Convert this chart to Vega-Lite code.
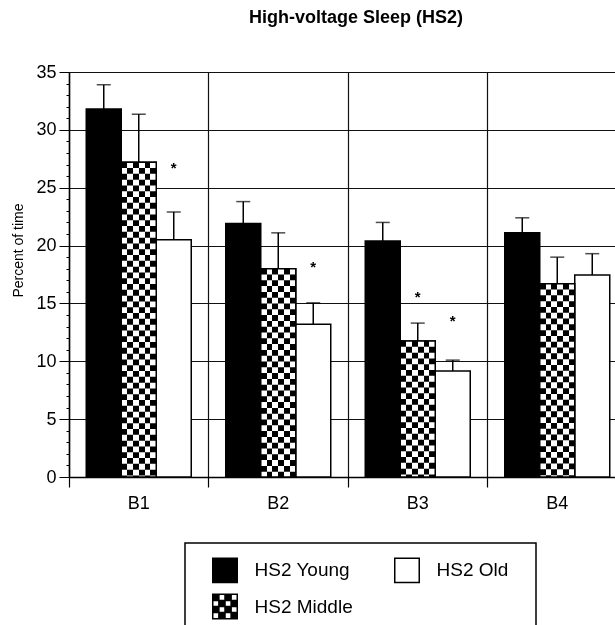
{
  "$schema": "https://vega.github.io/schema/vega-lite/v6.json",
  "autosize": {"type": "none"},
  "width": 546,
  "height": 405,
  "padding": {"left": 69, "top": 72, "right": 0, "bottom": 148},
  "background": "white",
  "title": {"text": "High-voltage Sleep (HS2)", "font": "Liberation Sans", "fontSize": 18, "fontWeight": "bold", "color": "black", "anchor": "middle", "dx": 14, "offset": 36},
  "config": {"view": {"stroke": null}, "font": "Liberation Sans"},
  "data": {"values": [
    {"block": "B1", "series": "HS2 Young", "mean": 31.8, "upper": 33.9, "star": null},
    {"block": "B1", "series": "HS2 Middle", "mean": 27.2, "upper": 31.35, "star": null},
    {"block": "B1", "series": "HS2 Old", "mean": 20.5, "upper": 22.9, "star": 26.8},
    {"block": "B2", "series": "HS2 Young", "mean": 21.9, "upper": 23.8, "star": null},
    {"block": "B2", "series": "HS2 Middle", "mean": 18.0, "upper": 21.1, "star": null},
    {"block": "B2", "series": "HS2 Old", "mean": 13.2, "upper": 15.05, "star": 18.2},
    {"block": "B3", "series": "HS2 Young", "mean": 20.4, "upper": 22.0, "star": null},
    {"block": "B3", "series": "HS2 Middle", "mean": 11.75, "upper": 13.3, "star": 15.6},
    {"block": "B3", "series": "HS2 Old", "mean": 9.15, "upper": 10.1, "star": 13.6},
    {"block": "B4", "series": "HS2 Young", "mean": 21.1, "upper": 22.4, "star": null},
    {"block": "B4", "series": "HS2 Middle", "mean": 16.7, "upper": 19.0, "star": null},
    {"block": "B4", "series": "HS2 Old", "mean": 17.45, "upper": 19.3, "star": null}
  ]},
  "encoding": {
    "x": {"field": "block", "type": "nominal", "scale": {"range": [0, 558], "paddingInner": 0, "paddingOuter": 0},
      "axis": {"title": null, "bandPosition": 0, "labelAngle": 0, "grid": true, "gridColor": "#111", "gridWidth": 1.2, "tickSize": 10, "tickColor": "black", "tickWidth": 1.2, "domainColor": "black", "domainWidth": 1.5, "labelFontSize": 18, "labelColor": "black", "labelPadding": 7, "labelFont": "Liberation Sans"}},
    "xOffset": {"field": "series", "type": "nominal", "scale": {"domain": ["HS2 Young", "HS2 Middle", "HS2 Old"], "paddingInner": 0, "paddingOuter": 0.493}},
    "y": {"field": "mean", "type": "quantitative", "stack": null, "scale": {"domain": [0, 35], "nice": false},
      "axis": {"values": [0,1,2,3,4,5,6,7,8,9,10,11,12,13,14,15,16,17,18,19,20,21,22,23,24,25,26,27,28,29,30,31,32,33,34,35],
        "tickCount": 100, "format": "d",
        "labelExpr": "datum.value % 5 === 0 ? datum.label : ''",
        "tickSize": {"condition": {"test": "datum.value % 5 === 0", "value": 10}, "value": 3},
        "gridOpacity": {"condition": {"test": "datum.value % 5 === 0", "value": 1}, "value": 0},
        "grid": true, "gridColor": "#111", "gridWidth": 1.2,
        "tickColor": "black", "tickWidth": 1, "domainColor": "black", "domainWidth": 1.5,
        "labelFontSize": 18, "labelColor": "black", "labelPadding": 3, "labelFont": "Liberation Sans",
        "title": "Percent of time", "titleFont": "Liberation Sans", "titleFontSize": 14, "titleFontWeight": "normal", "titleColor": "black",
        "titleX": -51, "titleY": 178, "titleAngle": 270, "titleAlign": "center", "titleBaseline": "middle"}}
  },
  "layer": [
    {
      "mark": {"type": "bar", "stroke": "black", "strokeWidth": 1.5},
      "encoding": {
        "color": {"field": "series", "type": "nominal",
          "scale": {"domain": ["HS2 Young", "HS2 Middle", "HS2 Old"], "range": ["black", "black", "white"]},
          "legend": {"orient": "none", "legendX": 116, "legendY": 471, "columns": 2, "direction": "vertical",
            "title": " ", "titleOrient": "right", "titlePadding": 14, "titleFontSize": 1,
            "padding": 14, "strokeColor": "black",
            "symbolType": "square", "symbolSize": 600, "symbolOffset": 13, "symbolStrokeColor": "black", "symbolStrokeWidth": 1.5,
            "labelOffset": 16.5, "labelFontSize": 19, "labelFont": "Liberation Sans", "labelColor": "black",
            "rowPadding": 4.5, "columnPadding": 28,
            "encode": {
              "legend": {"update": {"strokeWidth": {"value": 1.5}}},
              "symbols": {"update": {"shape": [
              {"test": "datum.value === 'HS2 Middle'", "value": "M-1,-1H1V1H-1Z M-0.5,-1V-0.5H0V-1Z M0.5,-1V-0.5H1V-1Z M-1,-0.5V0H-0.5V-0.5Z M0,-0.5V0H0.5V-0.5Z M-0.5,0V0.5H0V0Z M0.5,0V0.5H1V0Z M-1,0.5V1H-0.5V0.5Z M0,0.5V1H0.5V0.5Z"},
              {"value": "square"}]}}}}}
      }
    },
    {
      "transform": [{"filter": "datum.series === 'HS2 Middle'"}],
      "mark": {"type": "rule", "color": "white", "strokeWidth": 35, "strokeDash": [5.8, 5.8], "strokeCap": "butt"},
      "encoding": {"y2": {"datum": 0}}
    },
    {
      "transform": [{"filter": "datum.series === 'HS2 Middle'"}],
      "mark": {"type": "bar", "blend": "difference", "strokeWidth": 0,
        "fill": {"gradient": "linear", "x1": 0, "y1": 0, "x2": 1, "y2": 0, "stops": [
          {"offset": 0, "color": "white"}, {"offset": 0.1667, "color": "white"},
          {"offset": 0.1667, "color": "black"}, {"offset": 0.3333, "color": "black"},
          {"offset": 0.3333, "color": "white"}, {"offset": 0.5, "color": "white"},
          {"offset": 0.5, "color": "black"}, {"offset": 0.6667, "color": "black"},
          {"offset": 0.6667, "color": "white"}, {"offset": 0.8333, "color": "white"},
          {"offset": 0.8333, "color": "black"}, {"offset": 1, "color": "black"}]}},
      "encoding": {}
    },
    {
      "transform": [{"filter": "datum.series === 'HS2 Middle'"}],
      "mark": {"type": "bar", "fillOpacity": 0, "stroke": "black", "strokeWidth": 1.5},
      "encoding": {}
    },
    {
      "mark": {"type": "rule", "color": "black", "strokeWidth": 1.5},
      "encoding": {"y2": {"field": "upper"}}
    },
    {
      "mark": {"type": "tick", "orient": "horizontal", "size": 14, "thickness": 1.5, "color": "black"},
      "encoding": {"y": {"field": "upper", "type": "quantitative", "scale": {"domain": [0, 35], "nice": false},
        "axis": {"values": [0,1,2,3,4,5,6,7,8,9,10,11,12,13,14,15,16,17,18,19,20,21,22,23,24,25,26,27,28,29,30,31,32,33,34,35],
          "tickCount": 100, "format": "d",
          "labelExpr": "datum.value % 5 === 0 ? datum.label : ''",
          "tickSize": {"condition": {"test": "datum.value % 5 === 0", "value": 10}, "value": 3},
          "gridOpacity": {"condition": {"test": "datum.value % 5 === 0", "value": 1}, "value": 0},
          "grid": true, "gridColor": "#111", "gridWidth": 1.2,
          "tickColor": "black", "tickWidth": 1, "domainColor": "black", "domainWidth": 1.5,
          "labelFontSize": 18, "labelColor": "black", "labelPadding": 3, "labelFont": "Liberation Sans",
          "title": "Percent of time", "titleFont": "Liberation Sans", "titleFontSize": 14, "titleFontWeight": "normal", "titleColor": "black",
          "titleX": -51, "titleY": 178, "titleAngle": 270, "titleAlign": "center", "titleBaseline": "middle"}}}
    },
    {
      "transform": [{"filter": "datum.star != null"}],
      "mark": {"type": "text", "text": "*", "fontSize": 15, "fontWeight": "bold", "color": "black", "baseline": "middle", "dy": 1},
      "encoding": {"y": {"field": "star", "type": "quantitative", "scale": {"domain": [0, 35], "nice": false},
        "axis": {"values": [0,1,2,3,4,5,6,7,8,9,10,11,12,13,14,15,16,17,18,19,20,21,22,23,24,25,26,27,28,29,30,31,32,33,34,35],
          "tickCount": 100, "format": "d",
          "labelExpr": "datum.value % 5 === 0 ? datum.label : ''",
          "tickSize": {"condition": {"test": "datum.value % 5 === 0", "value": 10}, "value": 3},
          "gridOpacity": {"condition": {"test": "datum.value % 5 === 0", "value": 1}, "value": 0},
          "grid": true, "gridColor": "#111", "gridWidth": 1.2,
          "tickColor": "black", "tickWidth": 1, "domainColor": "black", "domainWidth": 1.5,
          "labelFontSize": 18, "labelColor": "black", "labelPadding": 3, "labelFont": "Liberation Sans",
          "title": "Percent of time", "titleFont": "Liberation Sans", "titleFontSize": 14, "titleFontWeight": "normal", "titleColor": "black",
          "titleX": -51, "titleY": 178, "titleAngle": 270, "titleAlign": "center", "titleBaseline": "middle"}}}
    }
  ]
}
